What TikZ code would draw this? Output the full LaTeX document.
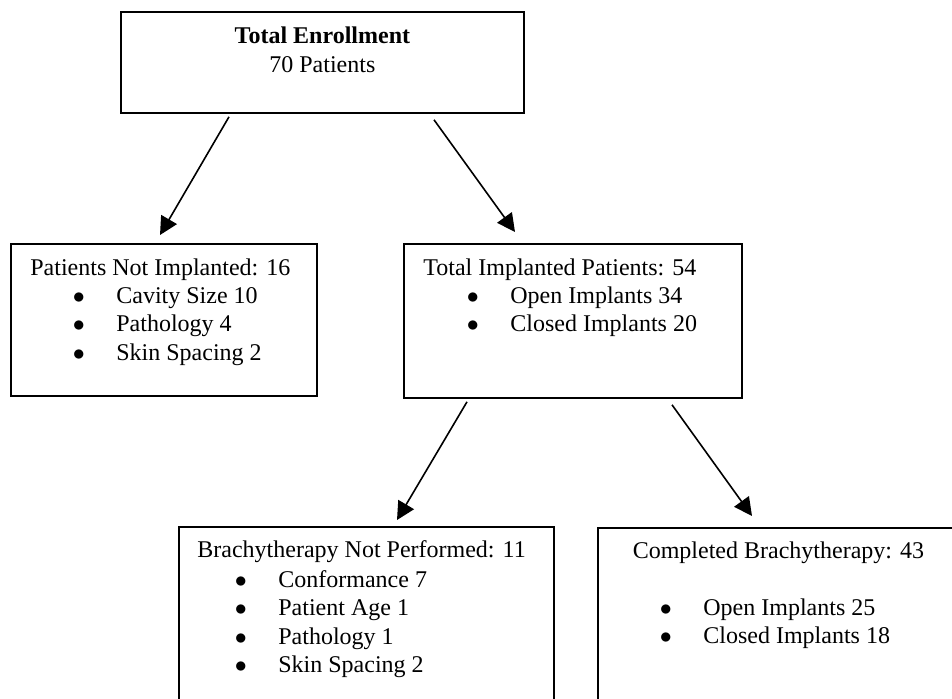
\documentclass[tikz,border=0pt]{standalone}
\usepackage{fontspec}
\setmainfont{Liberation Serif}
\usetikzlibrary{arrows.meta, calc}
\newcommand{\blt}{\makebox[21pt][l]{\hspace{-0.8pt}$\bullet$}}
\tikzset{
  bx/.style={draw, line width=0.9pt, anchor=north west, inner sep=0pt},
  ttl/.style={anchor=base west, inner sep=0pt},
  itm/.style={anchor=base west, inner sep=0pt},
  arr/.style={-{Triangle[length=9pt, width=9pt]}, line width=0.8pt}
}
\begin{document}
\begin{tikzpicture}[x=0.5pt, y=-0.5pt, every node/.style={font=\fontsize{12pt}{14.25pt}\selectfont}]
		\useasboundingbox (0,0) rectangle (952,698);
		\clip (0,0) rectangle (952,698);
		\fill[white] (0,0) rectangle (952,698);
		\node[bx, minimum width=201.5pt, minimum height=50.5pt] (tot) at (120,11) {};
		\node[bx, minimum width=153pt, minimum height=76pt] (ni) at (10,243) {};
		\node[bx, minimum width=169pt, minimum height=77pt] (ti) at (403,243) {};
		\node[bx, minimum width=187.5pt, minimum height=110pt] (np) at (178,526) {};
		\node[bx, minimum width=180.5pt, minimum height=110pt] (cb) at (597,527) {};
		\node[anchor=base, inner sep=0pt] (tot-t) at ($(tot.north)+(0,32)$) {\textbf{Total Enrollment}};
		\node[anchor=base, inner sep=0pt] (tot-n) at ($(tot.north)+(0,61)$) {70 Patients};
		\node[ttl] (ni-t) at ($(ni.north west)+(20,32)$) {Patients Not Implanted: 16};
		\foreach \t [count=\i from 0] in {Cavity Size 10, Pathology 4, Skin Spacing 2}
			\node[itm] (ni-\i) at ($(ni.north west)+(64,{60+28.5*\i})$) {\blt\t};
		\node[ttl] (ti-t) at ($(ti.north west)+(20,32)$) {Total Implanted Patients: 54};
		\foreach \t [count=\i from 0] in {Open Implants 34, Closed Implants 20}
			\node[itm] (ti-\i) at ($(ti.north west)+(65,{60+28.5*\i})$) {\blt\t};
		\node[ttl] (np-t) at ($(np.north west)+(19,31)$) {Brachytherapy Not Performed: 11};
		\foreach \t [count=\i from 0] in {Conformance 7, Patient Age 1, Pathology 1, Skin Spacing 2}
			\node[itm] (np-\i) at ($(np.north west)+(58,{61+28.5*\i})$) {\blt\t};
		\node[anchor=base, inner sep=0pt] (cb-t) at ($(cb.north)+(0,31)$) {Completed Brachytherapy: 43};
		\foreach \t [count=\i from 0] in {Open Implants 25, Closed Implants 18}
			\node[itm] (cb-\i) at ($(cb.north west)+(64,{88+28.5*\i})$) {\blt\t};
		\draw[arr] ($(tot.south west)+(109,3)$) -- ($(ni.north west)+(150,-8)$);
		\draw[arr] ($(tot.south west)+(314,6)$) -- ($(ti.north west)+(112,-11)$);
		\draw[arr] ($(ti.south west)+(64,3)$) -- ($(np.north west)+(219,-6)$);
		\draw[arr] ($(ti.south west)+(269,6)$) -- ($(cb.north west)+(155,-11)$);
	\end{tikzpicture}
\end{document}
